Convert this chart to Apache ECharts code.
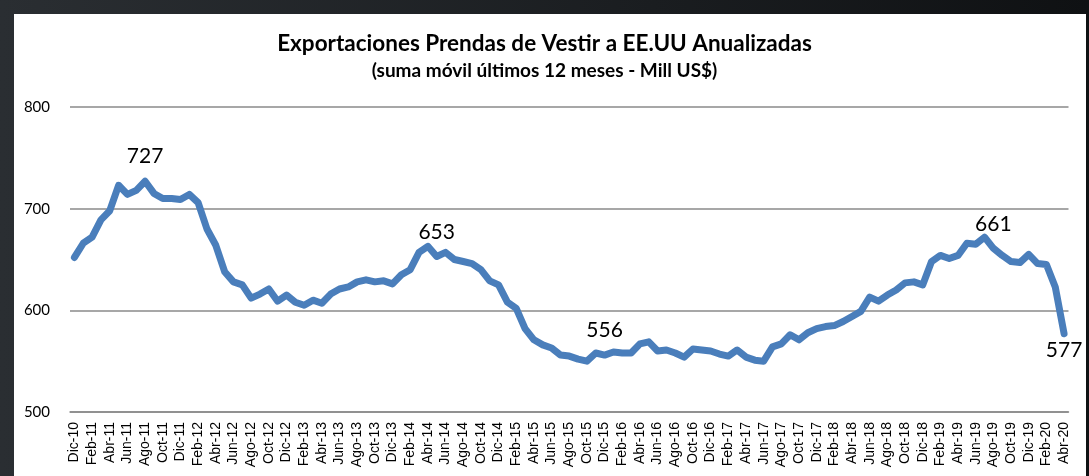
<!DOCTYPE html>
<html>
<head>
<meta charset="utf-8">
<script src="https://cdn.jsdelivr.net/npm/echarts@6/dist/echarts.min.js"></script>
<style>
  html, body { margin: 0; padding: 0; }
  body {
    width: 1089px; height: 476px; overflow: hidden; position: relative;
    background: linear-gradient(to right, #2a2e32, #1a1d20 60%, #0f1113);
  }
  #panel { position: absolute; left: 14px; top: 14px; width: 1072px; height: 470px; background: #fff; }
  #chart { position: absolute; left: 0; top: 0; width: 1089px; height: 476px; }
</style>
</head>
<body>
<div id="panel"></div>
<div id="chart"></div>
<script>
// meses abreviados, la serie empieza en Dic-10
const meses = ["Ene", "Feb", "Mar", "Abr", "May", "Jun", "Jul", "Ago", "Sep", "Oct", "Nov", "Dic"];
const inicioMes = 11; // Dic
const inicioAnio = 10;
const totalMeses = 113; // Dic-10 .. Abr-20

// suma movil 12 meses, Mill US$
const exportaciones = [
  652, 666, 672, 689, 698, 723, 714, 718, 727, 715, 710, 710,
  709, 714, 706, 680, 664, 638, 628, 625, 612, 616, 621, 609,
  615, 608, 605, 610, 607, 616, 621, 623, 628, 630, 628, 629,
  626, 635, 640, 657, 663, 653, 657, 650, 648, 646, 640, 629,
  625, 608, 602, 582, 571, 566, 563, 556, 555, 552, 550, 558,
  556, 559, 558, 558, 567, 569, 560, 561, 558, 554, 562, 561,
  560, 557, 555, 561, 554, 551, 550, 564, 567, 576, 571, 578,
  582, 584, 585, 589, 594, 599, 613, 609, 615, 620, 627, 628,
  625, 648, 654, 651, 654, 666, 665, 672, 661, 654, 648, 647,
  655, 646, 645, 623, 577
];

// puntos con etiqueta de valor
const etiquetasArriba = [8, 41, 60, 104];
const etiquetasAbajo = [112];

const yTicks = { min: 500, max: 800, interval: 100 };

let categorias = [];
for (let i = 0; i < totalMeses; i++) {
  let m = (inicioMes + i) % 12;
  let a = inicioAnio + Math.floor((inicioMes + i) / 12);
  categorias.push(meses[m] + "-" + a);
}

let datos = exportaciones.map((v, i) => {
  if (etiquetasArriba.includes(i)) {
    return { value: v, label: { show: true, position: "top", distance: 14 } };
  }
  if (etiquetasAbajo.includes(i)) {
    return { value: v, label: { show: true, position: "bottom", distance: 6 } };
  }
  return v;
});

const myChart = echarts.init(document.getElementById("chart"));
let option = {
  backgroundColor: "transparent",
  animation: false,
  title: {
    text: "Exportaciones Prendas de Vestir a EE.UU Anualizadas",
    subtext: "(suma móvil últimos 12 meses - Mill US$)",
    left: "center",
    top: 27,
    itemGap: 6,
    textStyle: { fontFamily: "Lato", fontWeight: "bold", fontSize: 22.5, color: "#000" },
    subtextStyle: { fontFamily: "Lato", fontWeight: "bold", fontSize: 19, color: "#000" },
  },
  grid: { left: 70, right: 20.5, top: 107, bottom: 64 },
  xAxis: {
    type: "category",
    data: categorias,
    boundaryGap: true,
    axisLine: { show: true, lineStyle: { color: "#8a8a8a", width: 1.5 } },
    axisTick: { show: false },
    axisLabel: {
      interval: 1,
      rotate: 90,
      margin: 10,
      fontFamily: "Liberation Sans",
      fontSize: 14,
      color: "#000",
    },
  },
  yAxis: {
    type: "value",
    min: yTicks.min,
    max: yTicks.max,
    interval: yTicks.interval,
    axisLine: { show: false },
    axisTick: { show: false },
    splitLine: { lineStyle: { color: "#8a8a8a", width: 1.5 } },
    axisLabel: { margin: 20, fontFamily: "Lato", fontSize: 15, color: "#000" },
  },
  series: [
    {
      type: "line",
      data: datos,
      showSymbol: true,
      showAllSymbol: true,
      symbol: "circle",
      symbolSize: 0,
      itemStyle: { color: "#4a7ebb" },
      lineStyle: { color: "#4a7ebb", width: 7, join: "round", cap: "round" },
      label: { show: false, fontFamily: "Lato", fontSize: 21, color: "#000" },
      z: 3,
    },
  ],
};
myChart.setOption(option);
</script>
</body>
</html>
